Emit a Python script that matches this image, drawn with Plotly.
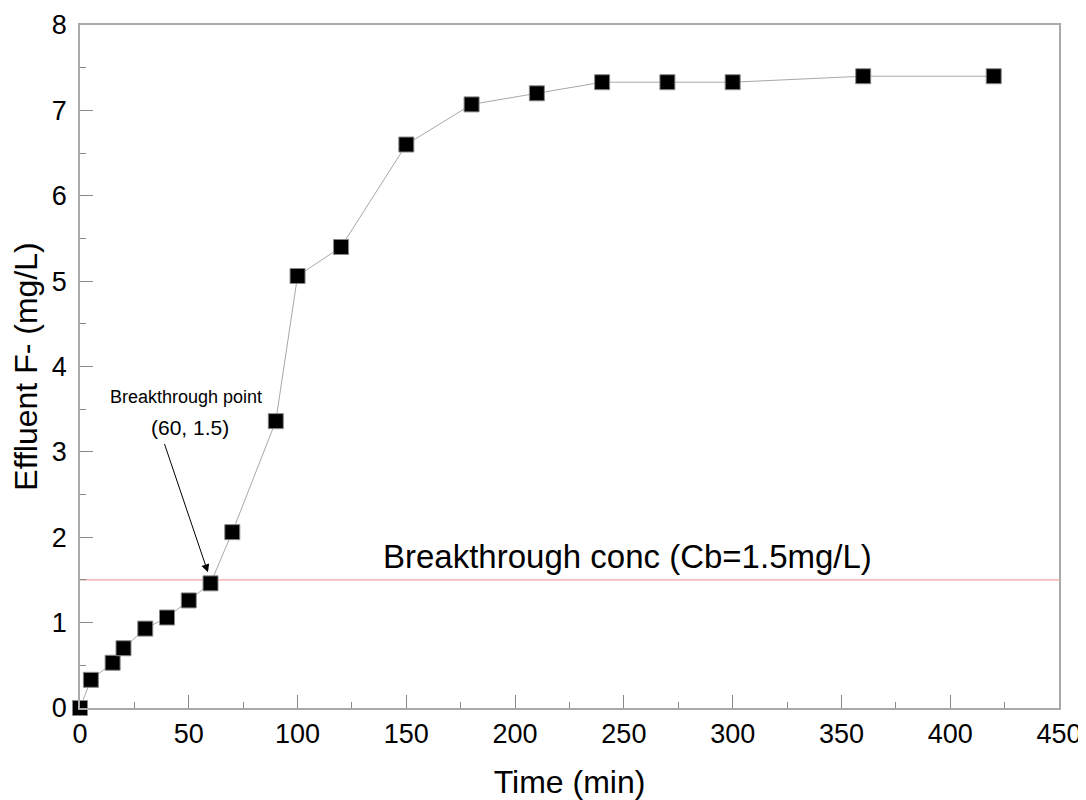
import plotly.graph_objects as go

time_min = [0, 5, 15, 20, 30, 40, 50, 60, 70, 90, 100, 120, 150, 180, 210, 240, 270, 300, 360, 420]
effluent_f = [0.0, 0.33, 0.53, 0.70, 0.93, 1.06, 1.26, 1.46, 2.06, 3.36, 5.06, 5.40, 6.60, 7.07, 7.20, 7.33, 7.33, 7.33, 7.40, 7.40]
cb_level = 1.5
x_range = [0, 450]
y_range = [0, 8]

FONT = "Liberation Sans, Arial, sans-serif"

fig = go.Figure()

fig.add_trace(go.Scatter(
    x=x_range, y=[cb_level, cb_level], mode="lines",
    line=dict(color="#f0a0a0", width=1.2), hoverinfo="skip", showlegend=False,
))

fig.add_trace(go.Scatter(
    x=time_min, y=effluent_f, mode="lines+markers",
    line=dict(color="#a8a8a8", width=1),
    marker=dict(symbol="square", size=15, color="black",
                line=dict(color="#888888", width=1)),
    showlegend=False, cliponaxis=False,
))

fig.add_annotation(x=251.7, y=1.78, xref="x", yref="y", text="Breakthrough conc (Cb=1.5mg/L)",
                   showarrow=False, font=dict(size=33, color="black", family=FONT))
fig.add_annotation(x=48.7, y=3.64, xref="x", yref="y", text="Breakthrough point",
                   showarrow=False, font=dict(size=18, color="black", family=FONT))
fig.add_annotation(x=50.5, y=3.29, xref="x", yref="y", text="(60, 1.5)",
                   showarrow=False, font=dict(size=21, color="black", family=FONT))
fig.add_annotation(x=58.8, y=1.59, xref="x", yref="y", ax=38.6, ay=3.11, axref="x", ayref="y",
                   text="", showarrow=True, arrowhead=2, arrowsize=1.6, arrowwidth=1, arrowcolor="black",
                   standoff=0)

axis_common = dict(
    showgrid=False, zeroline=False, showline=True, linecolor="#aaaaaa", linewidth=1.5,
    mirror=True, ticks="inside", tickcolor="#888888", ticklen=13, tickwidth=1,
    tickfont=dict(size=27, color="black", family=FONT), automargin=False,
)

fig.update_xaxes(range=x_range, dtick=50, tick0=0, ticklabelstandoff=1,
                 minor=dict(ticks="inside", ticklen=6, dtick=25, tickcolor="#888888", tickwidth=1),
                 title=dict(text="Time (min)", font=dict(size=32, color="black", family=FONT), standoff=22),
                 **axis_common)
fig.update_yaxes(range=y_range, dtick=1, tick0=0, ticklabelstandoff=6,
                 minor=dict(ticks="inside", ticklen=6, dtick=0.5, tickcolor="#888888", tickwidth=1),
                 title=dict(text="Effluent F- (mg/L)", font=dict(size=32, color="black", family=FONT), standoff=9),
                 **axis_common)

fig.update_layout(
    width=1078, height=792,
    margin=dict(l=72, r=27, t=17, b=92),
    plot_bgcolor="white", paper_bgcolor="white",
    font=dict(family=FONT),
)

fig.write_html("out.html")
